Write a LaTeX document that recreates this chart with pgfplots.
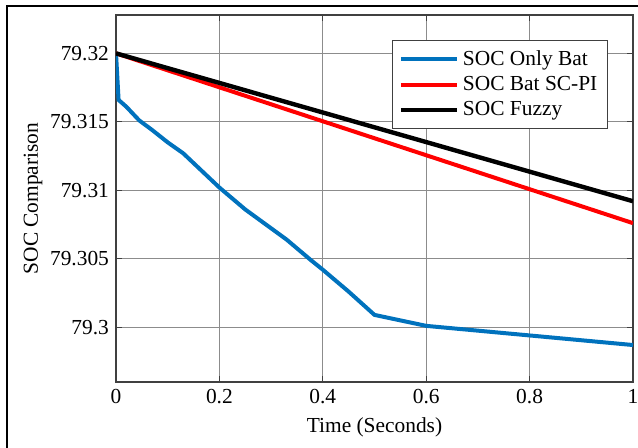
\documentclass[border=0pt]{standalone}
\usepackage{fontspec}
\setmainfont{Liberation Serif}
\usepackage{pgfplots}
\pgfplotsset{compat=1.18}
\definecolor{mblue}{RGB}{0,114,189}
\begin{document}
\begin{tikzpicture}
\path[use as bounding box] (-58pt,-32.5pt) rectangle (261pt,191pt);
\draw[black,line width=0.6pt] (-54.5pt,-33pt) -- (-54.5pt,188pt) -- (262pt,188pt);
\begin{axis}[
  at={(0,0)}, anchor=south west,
  scale only axis, width=258.5pt, height=183.5pt,
  xmin=0, xmax=1, ymin=79.296, ymax=79.3228,
  xtick={0,0.2,0.4,0.6,0.8,1},
  xticklabels={0,0.2,0.4,0.6,0.8,1},
  ytick={79.3,79.305,79.31,79.315,79.32},
  yticklabels={79.3,79.305,79.31,79.315,79.32},
  tick align=inside, tick pos=both,
  major tick length=3pt,
  tick style={black!75, line width=0.5pt},
  grid=major,
  major grid style={black!45, line width=0.5pt},
  axis line style={black!75, line width=0.8pt},
  font=\fontsize{10.7}{12.8}\selectfont,
  xlabel={Time (Seconds)}, ylabel={SOC Comparison},
  xlabel style={at={(axis description cs:0.5,-0.1226)}, anchor=center},
  ylabel style={at={(axis description cs:-0.1605,0.5)}, anchor=center},
  legend style={at={(0.9516,0.932)}, anchor=north east, draw=black!75, line width=0.6pt,
    font=\fontsize{10.7}{12.8}\selectfont, row sep=0pt, inner xsep=3pt, inner ysep=3pt},
  legend cell align=left,
  legend image code/.code={\draw[#1] (0pt,0pt) -- (28pt,0pt);},
]
\addplot[mblue, line width=2pt] coordinates {
(0,79.32) (0.005,79.3166) (0.02,79.3161) (0.035,79.3155) (0.045,79.3151)
(0.07,79.3144) (0.1,79.3135) (0.13,79.3127) (0.2,79.3102) (0.25,79.3086)
(0.33,79.3064) (0.377,79.3049) (0.4,79.3042) (0.45,79.3026) (0.5,79.3009)
(0.6,79.3001) (0.8,79.2994) (1,79.2987)};
\addlegendentry{SOC Only Bat}
\addplot[red, line width=2pt] coordinates {(0,79.32) (1,79.3076)};
\addlegendentry{SOC Bat SC-PI}
\addplot[black, line width=2.2pt] coordinates {(0,79.32) (1,79.3092)};
\addlegendentry{SOC Fuzzy}
\end{axis}
\end{tikzpicture}
\end{document}
